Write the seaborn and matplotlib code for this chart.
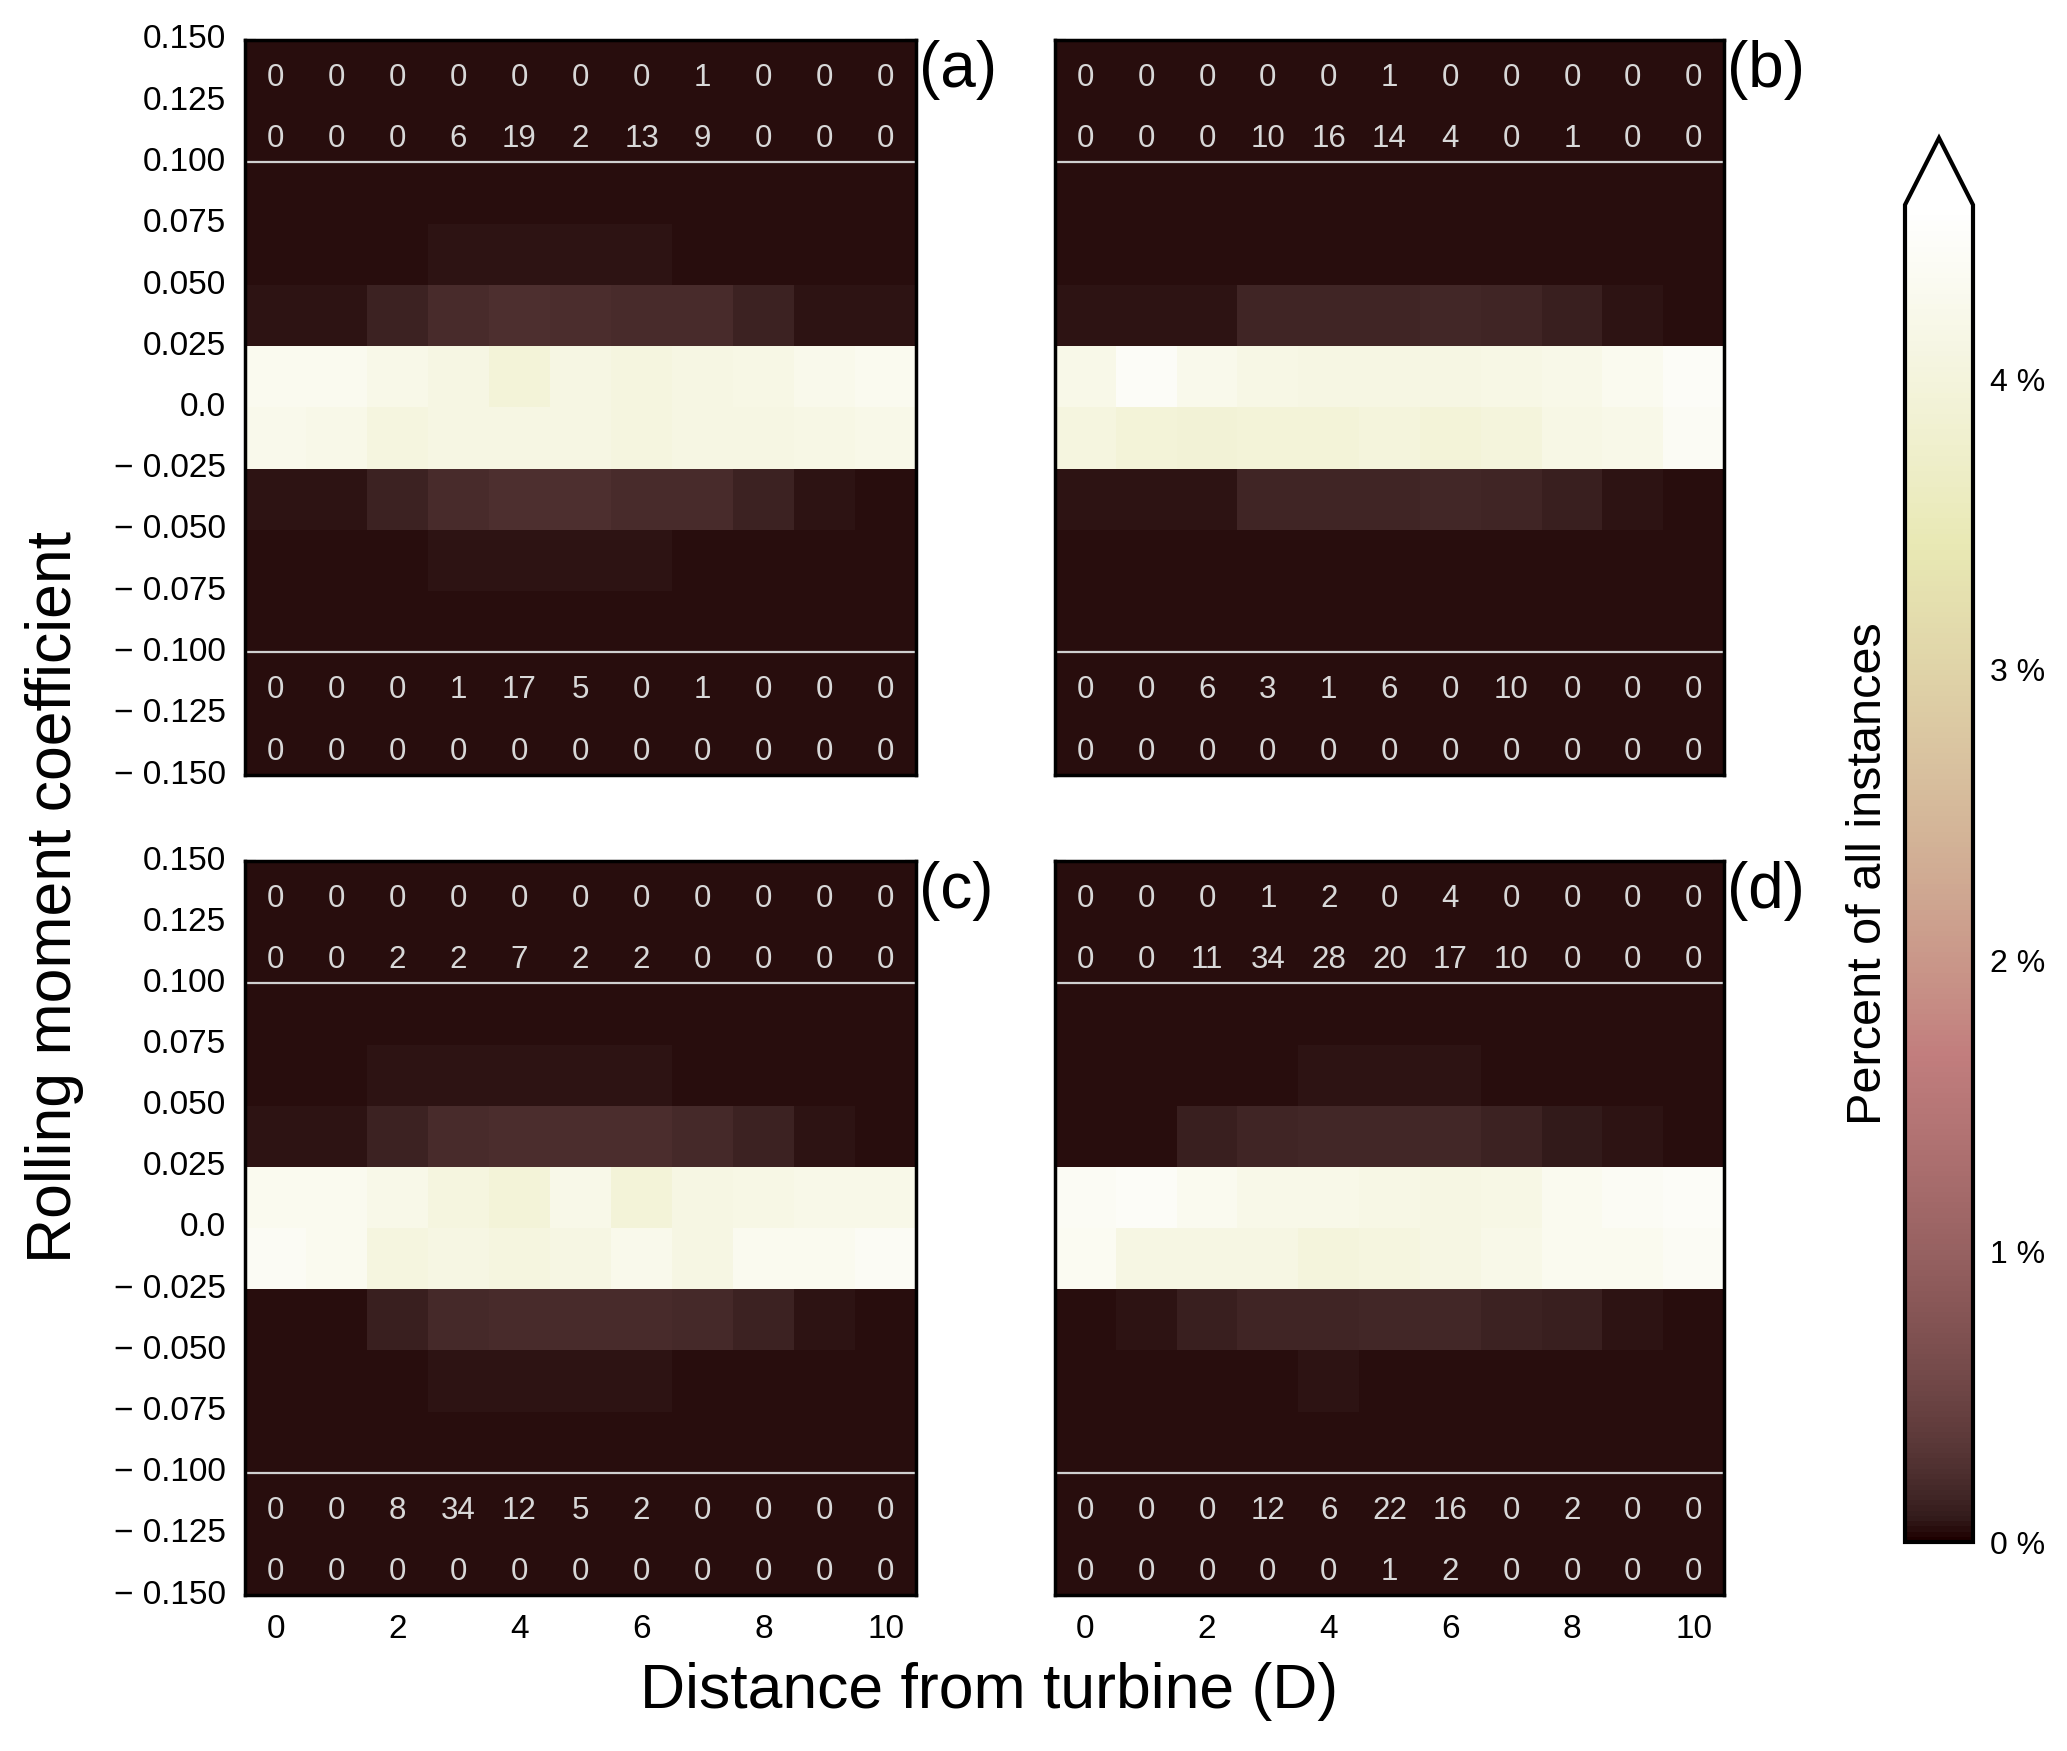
import numpy as np
import matplotlib
matplotlib.use("Agg")
import matplotlib.pyplot as plt
import seaborn as sns

sns.set_style("white")
plt.rcParams["font.family"] = ["Liberation Sans", "DejaVu Sans"]
plt.rcParams["text.color"] = "black"
plt.rcParams["axes.labelcolor"] = "black"
plt.rcParams["xtick.color"] = "black"
plt.rcParams["ytick.color"] = "black"

# ---------------- data ----------------
distance_ticks = [0, 2, 4, 6, 8, 10]
coef_tick_labels = ["0.150", "0.125", "0.100", "0.075", "0.050", "0.025", "0.0",
                    "\u2212 0.025", "\u2212 0.050", "\u2212 0.075", "\u2212 0.100",
                    "\u2212 0.125", "\u2212 0.150"]
panel_tags = ["(a)", "(b)", "(c)", "(d)"]
cbar_ticks = [0, 1, 2, 3, 4]
cbar_ticklabels = ["0 %", "1 %", "2 %", "3 %", "4 %"]

# counts shown in the outer rows (|C| > 0.1): top two rows, bottom two rows
a_counts_top = [[0, 0, 0, 0, 0, 0, 0, 1, 0, 0, 0],
                [0, 0, 0, 6, 19, 2, 13, 9, 0, 0, 0]]
a_counts_bot = [[0, 0, 0, 1, 17, 5, 0, 1, 0, 0, 0],
                [0, 0, 0, 0, 0, 0, 0, 0, 0, 0, 0]]
b_counts_top = [[0, 0, 0, 0, 0, 1, 0, 0, 0, 0, 0],
                [0, 0, 0, 10, 16, 14, 4, 0, 1, 0, 0]]
b_counts_bot = [[0, 0, 6, 3, 1, 6, 0, 10, 0, 0, 0],
                [0, 0, 0, 0, 0, 0, 0, 0, 0, 0, 0]]
c_counts_top = [[0, 0, 0, 0, 0, 0, 0, 0, 0, 0, 0],
                [0, 0, 2, 2, 7, 2, 2, 0, 0, 0, 0]]
c_counts_bot = [[0, 0, 8, 34, 12, 5, 2, 0, 0, 0, 0],
                [0, 0, 0, 0, 0, 0, 0, 0, 0, 0, 0]]
d_counts_top = [[0, 0, 0, 1, 2, 0, 4, 0, 0, 0, 0],
                [0, 0, 11, 34, 28, 20, 17, 10, 0, 0, 0]]
d_counts_bot = [[0, 0, 0, 12, 6, 22, 16, 0, 2, 0, 0],
                [0, 0, 0, 0, 0, 1, 2, 0, 0, 0, 0]]

# estimated percentage of outer (count) rows
outer_pct = 0.04

# percent of all instances, rows from C = 0.1 down to C = -0.1 (8 bins)
a_pct = [
    [0.04, 0.04, 0.04, 0.04, 0.04, 0.04, 0.04, 0.04, 0.04, 0.04, 0.04],
    [0.04, 0.04, 0.04, 0.06, 0.06, 0.06, 0.06, 0.04, 0.04, 0.04, 0.04],
    [0.06, 0.07, 0.14, 0.21, 0.24, 0.22, 0.21, 0.21, 0.14, 0.07, 0.06],
    [4.30, 4.30, 4.20, 4.10, 3.95, 4.10, 4.05, 4.10, 4.15, 4.25, 4.30],
    [4.25, 4.20, 4.05, 4.10, 4.10, 4.10, 4.05, 4.10, 4.10, 4.15, 4.20],
    [0.07, 0.07, 0.14, 0.21, 0.24, 0.25, 0.21, 0.21, 0.14, 0.07, 0.04],
    [0.04, 0.04, 0.04, 0.06, 0.06, 0.06, 0.06, 0.04, 0.04, 0.04, 0.04],
    [0.04, 0.04, 0.04, 0.04, 0.04, 0.04, 0.04, 0.04, 0.04, 0.04, 0.04],
]
b_pct = [
    [0.04, 0.04, 0.04, 0.04, 0.04, 0.04, 0.04, 0.04, 0.04, 0.04, 0.04],
    [0.04, 0.04, 0.04, 0.04, 0.04, 0.04, 0.04, 0.04, 0.04, 0.04, 0.04],
    [0.06, 0.06, 0.07, 0.16, 0.16, 0.16, 0.17, 0.16, 0.12, 0.06, 0.04],
    [4.20, 4.45, 4.25, 4.15, 4.10, 4.10, 4.10, 4.15, 4.20, 4.30, 4.45],
    [4.05, 3.95, 3.90, 3.95, 3.95, 4.00, 3.95, 4.00, 4.15, 4.20, 4.40],
    [0.06, 0.06, 0.07, 0.15, 0.16, 0.16, 0.17, 0.16, 0.12, 0.06, 0.04],
    [0.04, 0.04, 0.04, 0.04, 0.04, 0.04, 0.04, 0.04, 0.04, 0.04, 0.04],
    [0.04, 0.04, 0.04, 0.04, 0.04, 0.04, 0.04, 0.04, 0.04, 0.04, 0.04],
]
c_pct = [
    [0.04, 0.04, 0.04, 0.04, 0.04, 0.04, 0.04, 0.04, 0.04, 0.04, 0.04],
    [0.04, 0.04, 0.06, 0.06, 0.06, 0.06, 0.06, 0.04, 0.04, 0.04, 0.04],
    [0.07, 0.07, 0.14, 0.21, 0.23, 0.23, 0.23, 0.18, 0.14, 0.06, 0.04],
    [4.30, 4.30, 4.20, 4.05, 3.95, 4.20, 3.95, 4.10, 4.15, 4.20, 4.20],
    [4.40, 4.30, 4.05, 4.10, 4.05, 4.10, 4.25, 4.10, 4.30, 4.30, 4.40],
    [0.04, 0.04, 0.12, 0.18, 0.21, 0.21, 0.21, 0.18, 0.14, 0.06, 0.04],
    [0.04, 0.04, 0.04, 0.06, 0.06, 0.06, 0.06, 0.04, 0.04, 0.04, 0.04],
    [0.04, 0.04, 0.04, 0.04, 0.04, 0.04, 0.04, 0.04, 0.04, 0.04, 0.04],
]
d_pct = [
    [0.04, 0.04, 0.04, 0.04, 0.04, 0.04, 0.04, 0.04, 0.04, 0.04, 0.04],
    [0.04, 0.04, 0.04, 0.04, 0.055, 0.055, 0.055, 0.04, 0.04, 0.04, 0.04],
    [0.04, 0.04, 0.12, 0.16, 0.17, 0.17, 0.17, 0.14, 0.08, 0.06, 0.04],
    [4.40, 4.45, 4.30, 4.20, 4.20, 4.15, 4.10, 4.15, 4.30, 4.40, 4.45],
    [4.35, 4.10, 4.10, 4.10, 4.00, 4.05, 4.10, 4.20, 4.30, 4.30, 4.40],
    [0.04, 0.055, 0.12, 0.16, 0.16, 0.17, 0.17, 0.14, 0.12, 0.06, 0.04],
    [0.04, 0.04, 0.04, 0.04, 0.055, 0.04, 0.04, 0.04, 0.04, 0.04, 0.04],
    [0.04, 0.04, 0.04, 0.04, 0.04, 0.04, 0.04, 0.04, 0.04, 0.04, 0.04],
]

panels = [
    (a_counts_top, a_pct, a_counts_bot),
    (b_counts_top, b_pct, b_counts_bot),
    (c_counts_top, c_pct, c_counts_bot),
    (d_counts_top, d_pct, d_counts_bot),
]

# ---------------- figure ----------------
W, H = 2067, 1751
fig = plt.figure(figsize=(W / 100, H / 100), dpi=100)

def fx(px):
    return px / W

def fy(py):
    return 1 - py / H

lefts = [245, 1055]
rights = [916, 1724]
tops = [40, 861]
bottoms = [775, 1595]

axes = []
for r in range(2):
    for c in range(2):
        ax = fig.add_axes([fx(lefts[c]), fy(bottoms[r]),
                           fx(rights[c] - lefts[c]), (bottoms[r] - tops[r]) / H])
        axes.append(ax)

cax = fig.add_axes([fx(1905), fy(1542), fx(1973 - 1905), (1542 - 138) / H])

tick_fs = 24
for i, (ax, (ctop, pct, cbot)) in enumerate(zip(axes, panels)):
    ctop = np.array(ctop)
    cbot = np.array(cbot)
    mat = np.vstack([np.full(ctop.shape, outer_pct), np.array(pct),
                     np.full(cbot.shape, outer_pct)])
    annot = np.full(mat.shape, "", dtype=object)
    annot[:2] = ctop.astype(str)
    annot[-2:] = cbot.astype(str)
    sns.heatmap(mat, ax=ax, cmap="pink", vmin=0, vmax=4.6,
                annot=annot, fmt="",
                annot_kws=dict(color="#d8d8d8", fontsize=22.5),
                cbar=(i == 0), cbar_ax=cax if i == 0 else None,
                cbar_kws=dict(extend="max") if i == 0 else None,
                xticklabels=False, yticklabels=False)
    # nudge the count labels slightly below the cell centres, as in the source
    for t in ax.texts:
        x, y = t.get_position()
        t.set_position((x, y + 0.12))
    ax.axhline(2, color="#d0d0d0", lw=1.6)
    ax.axhline(10, color="#d0d0d0", lw=1.6)
    for sp in ax.spines.values():
        sp.set_visible(True)
        sp.set_color("black")
        sp.set_linewidth(2.5)
    ax.set_xticks(np.array(distance_ticks) + 0.5)
    ax.set_xticklabels([str(d) for d in distance_ticks])
    ax.set_yticks(np.arange(len(coef_tick_labels)))
    ax.set_yticklabels(coef_tick_labels)
    ax.tick_params(direction="in", length=8, width=1.5, color="black",
                   labelcolor="black",
                   top=True, right=True, bottom=True, left=True,
                   labelsize=tick_fs, pad=14,
                   labelbottom=(i >= 2), labelleft=(i % 2 == 0),
                   labeltop=False, labelright=False)
    for t in ax.get_yticklabels():
        t.set_rotation(0)
        t.set_va("center")
    ax.set_xlabel("")
    ax.set_ylabel("")
    ax.text(1.004, 1.0, panel_tags[i], transform=ax.transAxes,
            ha="left", va="top", fontsize=46, color="black")

cbar = axes[0].collections[0].colorbar
cbar.set_ticks(cbar_ticks)
cbar.set_ticklabels(cbar_ticklabels)
cbar.outline.set_linewidth(3)
cbar.outline.set_edgecolor("black")
cbar.ax.tick_params(direction="in", length=12, width=1.2, color="black",
                    labelcolor="black",
                    labelsize=23, pad=12, right=True, left=False)
cbar.ax.yaxis.set_label_position("left")
cbar.set_label("Percent of all instances", fontsize=35, labelpad=10,
               color="black")

fig.text(fx(55), fy(897), "Rolling moment coefficient", rotation=90,
         ha="center", va="center", fontsize=45, color="black")
fig.text(fx(989), fy(1691), "Distance from turbine (D)",
         ha="center", va="center", fontsize=45, color="black")

fig.savefig("out.png", dpi=100, facecolor="white")
